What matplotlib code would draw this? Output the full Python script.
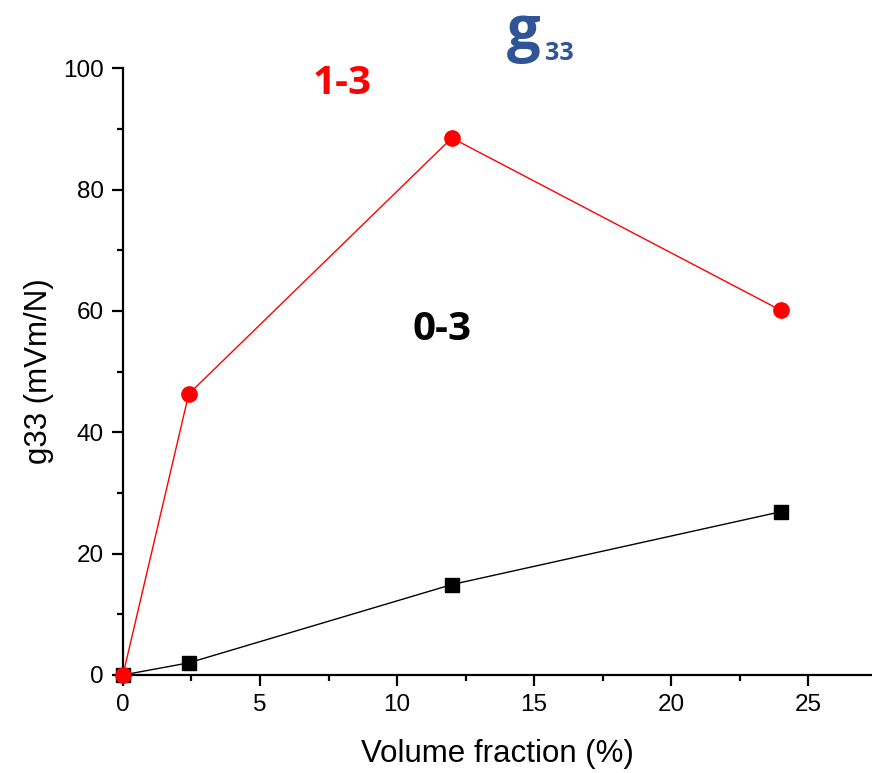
import numpy as np
import matplotlib.pyplot as plt
from matplotlib.ticker import MultipleLocator

# данные
vol_frac = [0, 2.4, 12, 24]
g33_13 = [0, 46.3, 88.5, 60.1]
g33_03 = [0, 2.0, 14.9, 26.9]

plt.rcParams['font.family'] = ['Liberation Sans', 'DejaVu Sans']

fig = plt.figure(figsize=(8.72, 7.73), dpi=100)
ax = fig.add_axes([0.141, 0.1268, 0.859, 0.785])

ax.plot(vol_frac, g33_03, '-s', color='black', lw=1, markersize=9.5, clip_on=False, zorder=3)
ax.plot(vol_frac, g33_13, '-o', color='red', lw=1, markersize=11, clip_on=False, zorder=4)

ax.set_xlim(0, 27.33)
ax.set_ylim(0, 100)
ax.xaxis.set_major_locator(MultipleLocator(5))
ax.xaxis.set_minor_locator(MultipleLocator(2.5))
ax.yaxis.set_major_locator(MultipleLocator(20))
ax.yaxis.set_minor_locator(MultipleLocator(10))

for s in ['top', 'right']:
    ax.spines[s].set_visible(False)
for s in ['left', 'bottom']:
    ax.spines[s].set_linewidth(1.6)
ax.tick_params(which='major', direction='out', length=8, width=1.6, labelsize=17.5, pad=6)
ax.tick_params(which='minor', direction='out', length=4.5, width=1.6)

ax.set_xlabel('Volume fraction (%)', fontsize=22.5, labelpad=16)
ax.set_ylabel('g33 (mVm/N)', fontsize=22.5, labelpad=6)

# подписи на поле графика
fig.text(342 / 872, 1 - 83 / 773, '1-3', color='red', fontsize=29, fontweight='bold',
         family='Open Sans', ha='center', va='center')
fig.text(442 / 872, 1 - 330 / 773, '0-3', color='black', fontsize=29, fontweight='bold',
         family='Open Sans', ha='center', va='center')
fig.text(524 / 872, 1 - 49 / 773, 'g', color='#2F5597', fontsize=43, fontweight='bold',
         family='Open Sans', ha='center', va='baseline')
fig.text(545 / 872, 1 - 60 / 773, '33', color='#2F5597', fontsize=18, fontweight='bold',
         family='Open Sans', ha='left', va='baseline')

plt.savefig('out.png', dpi=100)
plt.close()
